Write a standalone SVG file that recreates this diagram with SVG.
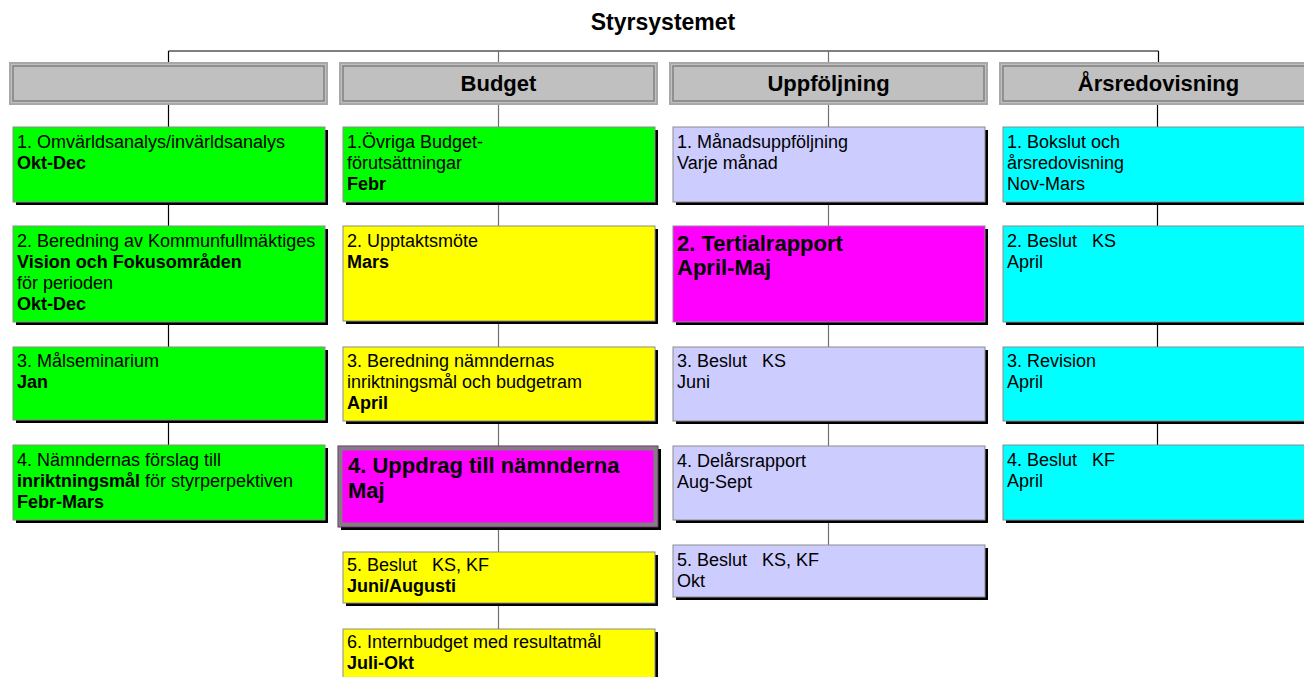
<svg xmlns="http://www.w3.org/2000/svg" width="1304" height="677" viewBox="0 0 1304 677">
<style>
text{font-family:"Liberation Sans",Arial,sans-serif;fill:#000;white-space:pre}
.t{font-size:18px}
.b{font-weight:bold}
.big{font-size:22px;font-weight:bold}
.hd{font-size:22px;font-weight:bold;text-anchor:middle}
.title{font-size:23px;font-weight:bold;text-anchor:middle}
.sh{fill:#000}
.box{stroke:#8c8c8c;stroke-width:1}
.g{fill:#00ff00}.y{fill:#ffff00}.l{fill:#ccccff}.c{fill:#00ffff}.m{fill:#ff00ff}
.hbo{fill:#c0c0c0;stroke:#a8a8a8;stroke-width:2}
.hbi{fill:none;stroke:#808080;stroke-width:1.5}
.k{stroke:#000;stroke-width:1.2;fill:none}
.gr{stroke:#707070;stroke-width:1.2;fill:none}
</style>
<g id="connectors">
<path class="k" d="M168.5 51H1158.5M168.5 51V63M1158.5 51V63"/>
<path class="gr" d="M498.5 51V63M828.5 51V63"/>
<path class="k" d="M168.5 104V127M168.5 205V226M168.5 325V347M168.5 423V445"/>
<path class="gr" d="M498.5 104V127M498.5 205V226M498.5 324V347M498.5 424V446M498.5 530V552M498.5 606V629"/>
<path class="gr" d="M828.5 104V127M828.5 205V226M828.5 325V347M828.5 424V446M828.5 523V545"/>
<path class="k" d="M1157.5 104V127M1157.5 205V226M1157.5 325V347M1157.5 424V445"/>
</g>
<g id="title"><text class="title" x="663" y="30">Styrsystemet</text></g>
<g id="h1"><rect class="hbo" x="10" y="63" width="317" height="41"/><rect class="hbi" x="13" y="66" width="311" height="35"/></g>
<g id="h2"><rect class="hbo" x="340" y="63" width="317" height="41"/><rect class="hbi" x="343" y="66" width="311" height="35"/><text class="hd" x="498.5" y="91">Budget</text></g>
<g id="h3"><rect class="hbo" x="670" y="63" width="317" height="41"/><rect class="hbi" x="673" y="66" width="311" height="35"/><text class="hd" x="828.5" y="91">Uppföljning</text></g>
<g id="h4"><rect class="hbo" x="1000" y="63" width="317" height="41"/><rect class="hbi" x="1003" y="66" width="311" height="35"/><text class="hd" x="1158.5" y="91">Årsredovisning</text></g>

<g id="c1n1"><rect class="sh" x="16" y="130" width="312" height="75"/><rect class="box g" x="13" y="127" width="312" height="75"/>
<text class="t" x="17" y="148">1. Omvärldsanalys/invärldsanalys</text><text class="t b" x="17" y="169">Okt-Dec</text></g>
<g id="c1n2"><rect class="sh" x="16" y="229" width="312" height="96"/><rect class="box g" x="13" y="226" width="312" height="96"/>
<text class="t" x="17" y="247">2. Beredning av Kommunfullmäktiges</text><text class="t b" x="17" y="268">Vision och Fokusområden</text><text class="t" x="17" y="289">för perioden</text><text class="t b" x="17" y="310">Okt-Dec</text></g>
<g id="c1n3"><rect class="sh" x="16" y="350" width="312" height="73"/><rect class="box g" x="13" y="347" width="312" height="73"/>
<text class="t" x="17" y="367">3. Målseminarium</text><text class="t b" x="17" y="388">Jan</text></g>
<g id="c1n4"><rect class="sh" x="16" y="448" width="312" height="75"/><rect class="box g" x="13" y="445" width="312" height="75"/>
<text class="t" x="17" y="466">4. Nämndernas förslag till</text><text class="t" x="17" y="487"><tspan class="b">inriktningsmål</tspan> för styrperpektiven</text><text class="t b" x="17" y="508">Febr-Mars</text></g>

<g id="c2n1"><rect class="sh" x="346" y="130" width="312" height="75"/><rect class="box g" x="343" y="127" width="312" height="75"/>
<text class="t" x="347" y="148">1.Övriga Budget-</text><text class="t" x="347" y="169">förutsättningar</text><text class="t b" x="347" y="190">Febr</text></g>
<g id="c2n2"><rect class="sh" x="346" y="229" width="312" height="95"/><rect class="box y" x="343" y="226" width="312" height="95"/>
<text class="t" x="347" y="247">2. Upptaktsmöte</text><text class="t b" x="347" y="268">Mars</text></g>
<g id="c2n3"><rect class="sh" x="346" y="350" width="312" height="74"/><rect class="box y" x="343" y="347" width="312" height="74"/>
<text class="t" x="347" y="367">3. Beredning nämndernas</text><text class="t" x="347" y="388">inriktningsmål och budgetram</text><text class="t b" x="347" y="409">April</text></g>
<g id="c2n4"><rect class="sh" x="341" y="449" width="320" height="81"/><rect x="338" y="446" width="320" height="81" fill="#ff00ff" stroke="#404040" stroke-width="1"/><rect x="340.5" y="448.5" width="315" height="76" fill="none" stroke="#808080" stroke-width="4"/>
<text class="big" x="348" y="473">4. Uppdrag till nämnderna</text><text class="big" x="348" y="498">Maj</text></g>
<g id="c2n5"><rect class="sh" x="346" y="555" width="312" height="51"/><rect class="box y" x="343" y="552" width="312" height="51"/>
<text class="t" x="347" y="571">5. Beslut   KS, KF</text><text class="t b" x="347" y="592">Juni/Augusti</text></g>
<g id="c2n6"><rect class="sh" x="346" y="632" width="312" height="60"/><rect class="box y" x="343" y="629" width="312" height="60"/>
<text class="t" x="347" y="648">6. Internbudget med resultatmål</text><text class="t b" x="347" y="669">Juli-Okt</text></g>

<g id="c3n1"><rect class="sh" x="676" y="130" width="312" height="75"/><rect class="box l" x="673" y="127" width="312" height="75"/>
<text class="t" x="677" y="148">1. Månadsuppföljning</text><text class="t" x="677" y="169">Varje månad</text></g>
<g id="c3n2"><rect class="sh" x="676" y="229" width="312" height="96"/><rect class="box m" x="673" y="226" width="312" height="96"/>
<text class="big" x="677" y="251">2. Tertialrapport</text><text class="big" x="677" y="275">April-Maj</text></g>
<g id="c3n3"><rect class="sh" x="676" y="350" width="312" height="74"/><rect class="box l" x="673" y="347" width="312" height="74"/>
<text class="t" x="677" y="367">3. Beslut   KS</text><text class="t" x="677" y="388">Juni</text></g>
<g id="c3n4"><rect class="sh" x="676" y="449" width="312" height="74"/><rect class="box l" x="673" y="446" width="312" height="74"/>
<text class="t" x="677" y="467">4. Delårsrapport</text><text class="t" x="677" y="488">Aug-Sept</text></g>
<g id="c3n5"><rect class="sh" x="676" y="548" width="312" height="52"/><rect class="box l" x="673" y="545" width="312" height="52"/>
<text class="t" x="677" y="566">5. Beslut   KS, KF</text><text class="t" x="677" y="587">Okt</text></g>

<g id="c4n1"><rect class="sh" x="1006" y="130" width="312" height="75"/><rect class="box c" x="1003" y="127" width="312" height="75"/>
<text class="t" x="1007" y="148">1. Bokslut och</text><text class="t" x="1007" y="169">årsredovisning</text><text class="t" x="1007" y="190">Nov-Mars</text></g>
<g id="c4n2"><rect class="sh" x="1006" y="229" width="312" height="96"/><rect class="box c" x="1003" y="226" width="312" height="96"/>
<text class="t" x="1007" y="247">2. Beslut   KS</text><text class="t" x="1007" y="268">April</text></g>
<g id="c4n3"><rect class="sh" x="1006" y="350" width="312" height="74"/><rect class="box c" x="1003" y="347" width="312" height="74"/>
<text class="t" x="1007" y="367">3. Revision</text><text class="t" x="1007" y="388">April</text></g>
<g id="c4n4"><rect class="sh" x="1006" y="448" width="312" height="75"/><rect class="box c" x="1003" y="445" width="312" height="75"/>
<text class="t" x="1007" y="466">4. Beslut   KF</text><text class="t" x="1007" y="487">April</text></g>
</svg>
